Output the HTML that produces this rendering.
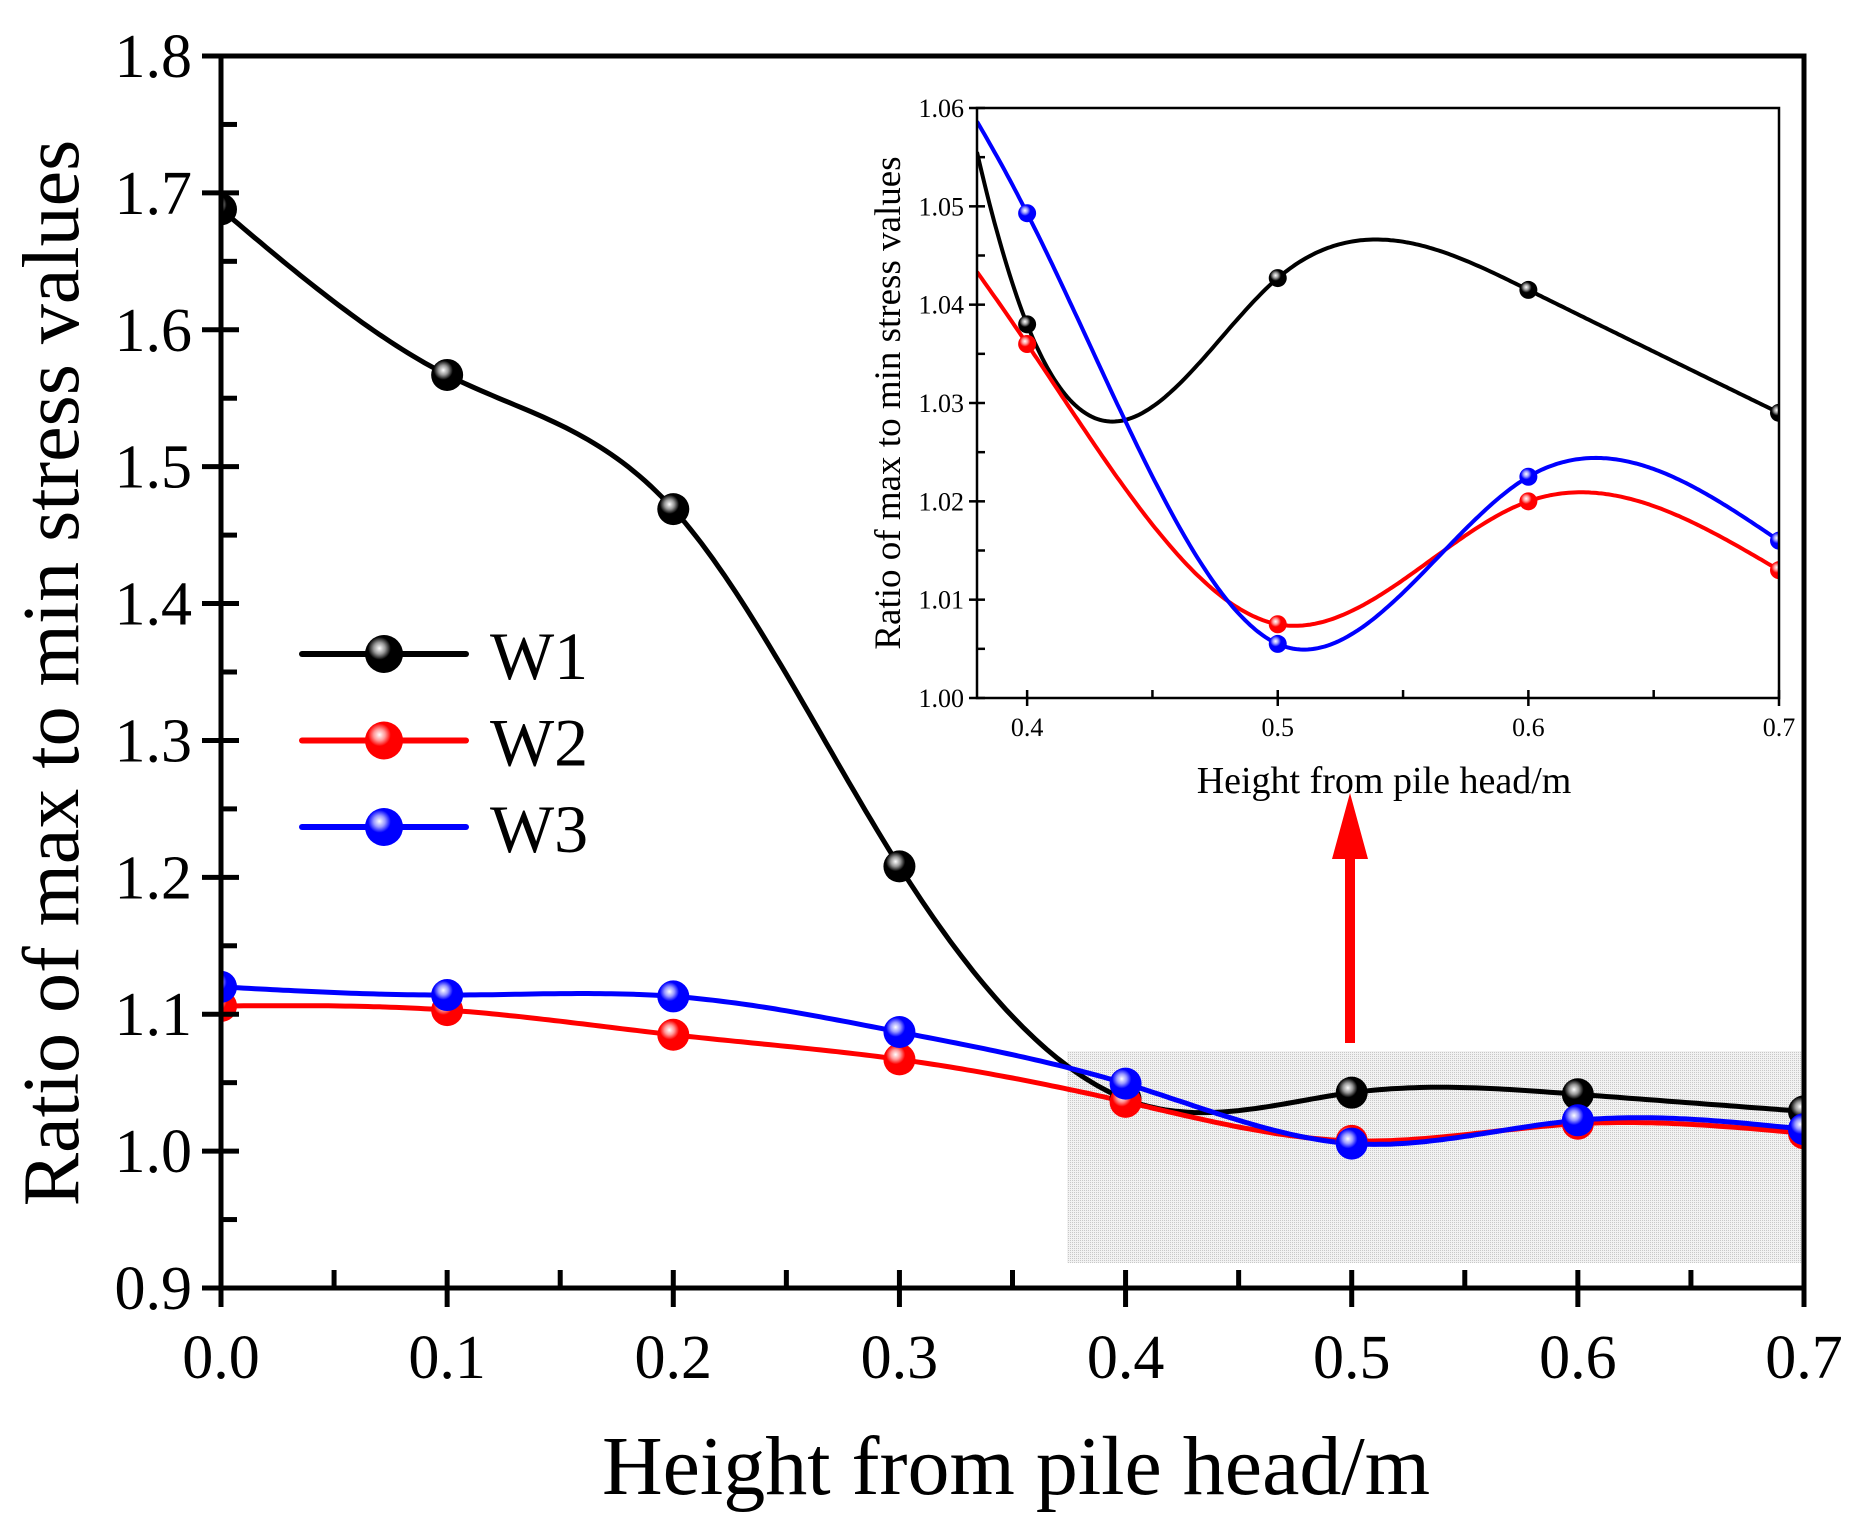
<!DOCTYPE html>
<html><head><meta charset="utf-8"><style>
html,body{margin:0;background:#fff;width:1875px;height:1533px;overflow:hidden}
svg{display:block;font-family:"Liberation Serif",serif}
</style></head><body>
<svg id="c" width="1875" height="1533" viewBox="0 0 1875 1533" xmlns="http://www.w3.org/2000/svg">
<defs>
<radialGradient id="gk" cx="0.38" cy="0.35" r="0.6"><stop offset="0" stop-color="#fff"/><stop offset="0.25" stop-color="#999"/><stop offset="0.5" stop-color="#000"/></radialGradient>
<radialGradient id="gr" cx="0.38" cy="0.35" r="0.6"><stop offset="0" stop-color="#fff"/><stop offset="0.25" stop-color="#ff9a9a"/><stop offset="0.5" stop-color="#f00"/></radialGradient>
<radialGradient id="gb" cx="0.38" cy="0.35" r="0.6"><stop offset="0" stop-color="#fff"/><stop offset="0.25" stop-color="#9a9aff"/><stop offset="0.5" stop-color="#00f"/></radialGradient>
<pattern id="dots" width="2" height="2" patternUnits="userSpaceOnUse"><rect width="2" height="2" fill="#f2f2f2"/><rect width="1" height="1" fill="#c8c8c8"/></pattern>
<clipPath id="mainClip"><rect x="221" y="56" width="1583" height="1232"/></clipPath>
<clipPath id="insClip"><rect x="977" y="108" width="802" height="590"/></clipPath>
</defs>
<g id="g"></g>
</svg>
<script>
const xs=[0,0.1,0.2,0.3,0.4,0.5,0.6,0.7];
const w1=[1.688,1.567,1.469,1.208,1.038,1.0427,1.0415,1.029];
const w2=[1.106,1.103,1.085,1.067,1.036,1.0075,1.020,1.013];
const w3=[1.120,1.114,1.113,1.087,1.0493,1.0055,1.0225,1.016];
const seriesNames=['W1','W2','W3'];
const mainYTicks=['0.9','1.0','1.1','1.2','1.3','1.4','1.5','1.6','1.7','1.8'];
const mainXTicks=['0.0','0.1','0.2','0.3','0.4','0.5','0.6','0.7'];
const insYTicks=['1.00','1.01','1.02','1.03','1.04','1.05','1.06'];
const insXTicks=['0.4','0.5','0.6','0.7'];

const NS='http://www.w3.org/2000/svg';
const G=document.getElementById('g');
function el(t,a,p){const e=document.createElementNS(NS,t);for(const k in a)e.setAttribute(k,a[k]);(p||G).appendChild(e);return e;}
const cols=['#000','#f00','#00f'], grads=['url(#gk)','url(#gr)','url(#gb)'];
const data=[w1,w2,w3];

function spline(x,y){const n=x.length,h=[],al=[],l=[1],mu=[0],z=[0],c=new Array(n).fill(0),b=[],d=[];
for(let i=0;i<n-1;i++)h.push(x[i+1]-x[i]);
for(let i=1;i<n-1;i++)al[i]=3/h[i]*(y[i+1]-y[i])-3/h[i-1]*(y[i]-y[i-1]);
for(let i=1;i<n-1;i++){l[i]=2*(x[i+1]-x[i-1])-h[i-1]*mu[i-1];mu[i]=h[i]/l[i];z[i]=(al[i]-h[i-1]*z[i-1])/l[i];}
for(let j=n-2;j>=0;j--){c[j]=(j>0?z[j]-mu[j]*c[j+1]:0);b[j]=(y[j+1]-y[j])/h[j]-h[j]*(c[j+1]+2*c[j])/3;d[j]=(c[j+1]-c[j])/(3*h[j]);}
return t=>{t=Math.min(x[n-1],Math.max(x[0],t));let i=0;while(i<n-2&&t>x[i+1])i++;const dx=t-x[i];return y[i]+b[i]*dx+c[i]*dx*dx+d[i]*dx*dx*dx;};}

// main axes
const mx=v=>221+(v-0)/0.7*1583, my=v=>1288-(v-0.9)/0.9*1232;
const r=el('rect',{x:1067,y:1051,width:736,height:212,fill:'url(#dots)'});

const arr=el('path',{d:'M1345,1043 L1345,859 L1332,859 L1350,793 L1368,859 L1355,859 L1355,1043 Z',fill:'#f00'});


const mg=el('g',{'clip-path':'url(#mainClip)'});
data.forEach((ys,s)=>{const f=spline(xs,ys);let d='';for(let k=0;k<=280;k++){const t=0.7*k/280;d+=(d?'L':'M')+mx(t).toFixed(1)+','+my(f(t)).toFixed(1);}
const p=el('path',{d,fill:'none',stroke:cols[s],'stroke-width':5},mg);});
data.forEach((ys,s)=>ys.forEach((v,i)=>{const c=el('circle',{cx:mx(xs[i]),cy:my(v),r:16,fill:grads[s]},mg);}));

const ax=el('rect',{x:221,y:56,width:1583,height:1232,fill:'none',stroke:'#000','stroke-width':5});

mainYTicks.forEach((t,i)=>{const v=+t,y=my(v);el('line',{x1:202,x2:239,y1:y,y2:y,stroke:'#000','stroke-width':5});
if(i<mainYTicks.length-1){const y2=my(v+0.05);el('line',{x1:221,x2:237,y1:y2,y2:y2,stroke:'#000','stroke-width':5});}
const tx=el('text',{x:192,y:y+21,'font-size':62,'text-anchor':'end'});tx.textContent=t;});
mainXTicks.forEach((t,i)=>{const v=+t,x=mx(v);el('line',{x1:x,x2:x,y1:1270,y2:1307,stroke:'#000','stroke-width':5});
if(i<mainXTicks.length-1){const x2=mx(v+0.05);el('line',{x1:x2,x2:x2,y1:1270,y2:1288,stroke:'#000','stroke-width':5});}
const tx=el('text',{x:x,y:1378,'font-size':62,'text-anchor':'middle'});tx.textContent=t;});
let tt=el('text',{x:1016,y:1494,'font-size':84,'text-anchor':'middle'});tt.textContent='Height from pile head/m';
tt=el('text',{x:0,y:0,'font-size':80,'text-anchor':'middle',transform:'translate(78,673) rotate(-90)'});tt.textContent='Ratio of max to min stress values';

// legend
seriesNames.forEach((n,s)=>{const y=654+s*86.5;const lg=el('g',{});
el('line',{x1:302,x2:466,y1:y,y2:y,stroke:cols[s],'stroke-width':6,'stroke-linecap':'round'},lg);
el('circle',{cx:384,cy:y,r:19,fill:grads[s]},lg);
const t=el('text',{x:490,y:y+25,'font-size':68},lg);t.textContent=n;});

// inset
const ix=v=>977+(v-0.38)/0.32*802, iy=v=>698-(v-1.0)/0.06*590;
const ig=el('g',{'clip-path':'url(#insClip)'});
data.forEach((ys,s)=>{const f=spline(xs,ys);let d='';for(let k=0;k<=320;k++){const t=0.38+0.32*k/320;d+=(d?'L':'M')+ix(t).toFixed(1)+','+iy(f(t)).toFixed(1);}
const p=el('path',{d,fill:'none',stroke:cols[s],'stroke-width':4},ig);});
data.forEach((ys,s)=>ys.forEach((v,i)=>{if(xs[i]<0.38)return;const c=el('circle',{cx:ix(xs[i]),cy:iy(v),r:9,fill:grads[s]},ig);}));
const ia=el('rect',{x:977,y:108,width:802,height:590,fill:'none',stroke:'#000','stroke-width':2.5});

insYTicks.forEach((t,i)=>{const v=+t,y=iy(v);el('line',{x1:969,x2:985,y1:y,y2:y,stroke:'#000','stroke-width':2.5});
if(i<insYTicks.length-1){const y2=iy(v+0.005);el('line',{x1:977,x2:985,y1:y2,y2:y2,stroke:'#000','stroke-width':2.5});}
const tx=el('text',{x:964,y:y+9,'font-size':26,'text-anchor':'end'});tx.textContent=t;});
insXTicks.forEach((t,i)=>{const v=+t,x=ix(v);el('line',{x1:x,x2:x,y1:690,y2:706,stroke:'#000','stroke-width':2.5});
if(i<insXTicks.length-1){const x2=ix(v+0.05);el('line',{x1:x2,x2:x2,y1:690,y2:698,stroke:'#000','stroke-width':2.5});}
const tx=el('text',{x:x,y:736,'font-size':26,'text-anchor':'middle'});tx.textContent=t;});
tt=el('text',{x:1384,y:793,'font-size':38,'text-anchor':'middle'});tt.textContent='Height from pile head/m';
tt=el('text',{x:0,y:0,'font-size':37,'text-anchor':'middle',transform:'translate(900,403) rotate(-90)'});tt.textContent='Ratio of max to min stress values';
</script>
</body></html>
